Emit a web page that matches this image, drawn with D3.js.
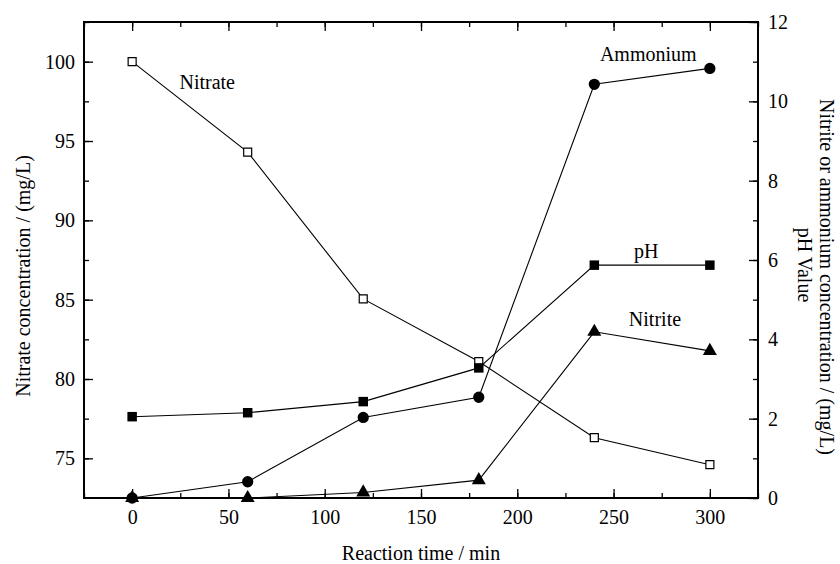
<!DOCTYPE html>
<html>
<head>
<meta charset="utf-8">
<script src="https://cdn.jsdelivr.net/npm/d3@7"></script>
<style>
  body { margin: 0; background: #fff; }
  svg { display: block; }
  text { font-family: "Liberation Serif", "Times New Roman", serif; fill: #000; }
</style>
</head>
<body>
<div id="chart"></div>
<script>
// data
const times = [0, 60, 120, 180, 240, 300];
const nitrate = [100, 94.3, 85.05, 81.1, 76.3, 74.6];   // left axis
const ammonium = [0, 0.41, 2.03, 2.54, 10.43, 10.83];   // right axis
const nitrite = [0, 0, 0.14, 0.45, 4.19, 3.71];        // right axis
const ph = [2.05, 2.15, 2.43, 3.28, 5.87, 5.87];        // right axis

const xTicks = [0, 50, 100, 150, 200, 250, 300];
const leftTicks = [75, 80, 85, 90, 95, 100];
const rightTicks = [0, 2, 4, 6, 8, 10, 12];

// series labels: [text, time, value, axis]
const labels = [
  ["Nitrate", 39, 98.3, "left"],
  ["Ammonium", 268, 11.02, "right"],
  ["pH", 267, 6.05, "right"],
  ["Nitrite", 271.5, 4.34, "right"]
];

const width = 840, height = 564;
const margin = {top: 22, right: 82, bottom: 66, left: 84};

const svg = d3.select("#chart").append("svg")
  .attr("width", width)
  .attr("height", height);

const x = d3.scaleLinear().domain([-25, 325]).range([margin.left, width - margin.right]);
const yL = d3.scaleLinear().domain([72.5, 102.5]).range([height - margin.bottom, margin.top]);
const yR = d3.scaleLinear().domain([0, 12]).range([height - margin.bottom, margin.top]);

const fs = "20px";

// minor ticks first
function minor(axis, tr) {
  svg.append("g").attr("transform", tr)
    .call(axis.tickFormat("").tickSizeOuter(0))
    .call(g => g.select(".domain").remove())
    .call(g => g.selectAll("line").attr("stroke-width", 1.3));
}
const xMinor = d3.range(-25, 326, 25);
minor(d3.axisBottom(x).tickValues(xMinor).tickSizeInner(-5), `translate(0,${height - margin.bottom})`);
minor(d3.axisTop(x).tickValues(xMinor).tickSizeInner(-5), `translate(0,${margin.top})`);
minor(d3.axisLeft(yL).tickValues(d3.range(75, 102.6, 2.5)).tickSizeInner(-5), `translate(${margin.left},0)`);
minor(d3.axisRight(yR).tickValues(d3.range(0, 13, 1)).tickSizeInner(-5), `translate(${width - margin.right},0)`);

// major axes
const gx = svg.append("g")
  .attr("transform", `translate(0,${height - margin.bottom})`)
  .call(d3.axisBottom(x).tickValues(xTicks).tickSizeInner(-9).tickSizeOuter(0).tickPadding(12));
svg.append("g")
  .attr("transform", `translate(0,${margin.top})`)
  .call(d3.axisTop(x).tickValues(xTicks).tickSizeInner(-9).tickSizeOuter(0).tickFormat(""));
const gl = svg.append("g")
  .attr("transform", `translate(${margin.left},0)`)
  .call(d3.axisLeft(yL).tickValues(leftTicks).tickSizeInner(-9).tickSizeOuter(0).tickPadding(9));
const gr = svg.append("g")
  .attr("transform", `translate(${width - margin.right},0)`)
  .call(d3.axisRight(yR).tickValues(rightTicks).tickSizeInner(-9).tickSizeOuter(0).tickPadding(10));

svg.selectAll(".domain").remove();
svg.selectAll(".tick line").attr("stroke", "#000").attr("stroke-width", 1.3);
svg.selectAll(".tick text")
  .style("font-family", "'Liberation Serif', serif")
  .style("font-size", fs)
  .attr("fill", "#000");

// frame
svg.append("rect")
  .attr("x", margin.left).attr("y", margin.top)
  .attr("width", width - margin.left - margin.right)
  .attr("height", height - margin.top - margin.bottom)
  .attr("fill", "none").attr("stroke", "#000").attr("stroke-width", 2);

// series
const series = [
  {vals: nitrate, y: yL, sym: d3.symbolSquare, size: 64, fill: "#fff", sw: 1.2},
  {vals: ammonium, y: yR, sym: d3.symbolCircle, size: 100, fill: "#000", sw: 0},
  {vals: nitrite, y: yR, sym: d3.symbolTriangle, size: 85, fill: "#000", sw: 0},
  {vals: ph, y: yR, sym: d3.symbolSquare, size: 90, fill: "#000", sw: 0}
];

for (const s of series) {
  const pts = times.map((t, i) => [t, s.vals[i]]);
  const line = d3.line().x(d => x(d[0])).y(d => s.y(d[1]));
  svg.append("path")
    .datum(pts)
    .attr("d", line)
    .attr("fill", "none")
    .attr("stroke", "#000")
    .attr("stroke-width", 1.1);
}
for (const s of series) {
  const pts = times.map((t, i) => [t, s.vals[i]]);
  svg.append("g").selectAll("path")
    .data(pts)
    .enter()
    .append("path")
    .attr("d", d3.symbol().type(s.sym).size(s.size))
    .attr("transform", d => "translate(" + x(d[0]) + "," + s.y(d[1]) + ")")
    .attr("fill", s.fill)
    .attr("stroke", "#000")
    .attr("stroke-width", s.sw);
}

// series labels
svg.selectAll(".lab")
  .data(labels)
  .enter()
  .append("text")
  .attr("class", "lab")
  .attr("x", d => x(d[1]))
  .attr("y", d => (d[3] === "left" ? yL : yR)(d[2]))
  .attr("text-anchor", "middle")
  .style("font-size", fs)
  .text(d => d[0]);

// axis titles
svg.append("text")
  .attr("x", (margin.left + width - margin.right) / 2)
  .attr("y", 560)
  .attr("text-anchor", "middle")
  .style("font-size", fs)
  .text("Reaction time / min");

svg.append("text")
  .attr("transform", "translate(30,276) rotate(-90)")
  .attr("text-anchor", "middle")
  .style("font-size", fs)
  .text("Nitrate concentration / (mg/L)");

svg.append("text")
  .attr("transform", "translate(820,277) rotate(90)")
  .attr("text-anchor", "middle")
  .style("font-size", fs)
  .text("Nitrite or ammonium concentration / (mg/L)");

svg.append("text")
  .attr("transform", "translate(798,265) rotate(90)")
  .attr("text-anchor", "middle")
  .style("font-size", fs)
  .text("pH Value");
</script>
</body>
</html>
